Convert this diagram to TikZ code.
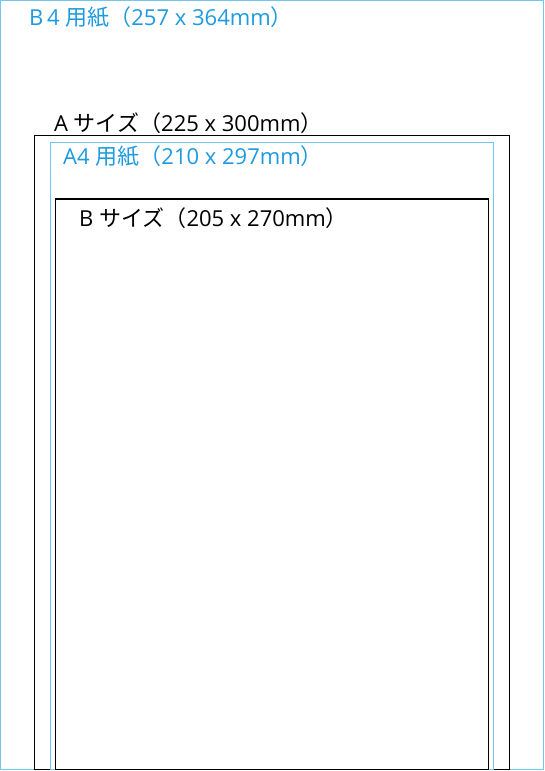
\documentclass[tikz,border=0pt]{standalone}
\usepackage{fontspec}
\newfontfamily\jp{Noto Sans CJK JP}
\newfontfamily\lat{Open Sans}
\definecolor{lineblue}{HTML}{72C7F0}
\definecolor{textblue}{HTML}{1E9BE0}
\tikzset{
  lbl/.style={anchor=base west, inner sep=0pt, font=\fontsize{22}{24}\selectfont},
  blackrect/.style={draw=black, line width=1.6pt},
  bluerect/.style={draw=lineblue, line width=1pt},
}
\newcommand{\myL}[1]{{\lat #1}}
\newcommand{\myJ}[1]{{\jp #1}}
\begin{document}
\begin{tikzpicture}[x=1pt,y=-1pt]
\useasboundingbox (0,0) rectangle (544,771);
\fill[white] (0,0) rectangle (544,771);
\draw[bluerect] (0.5,0.5) rectangle (543.5,769.5);
\draw[blackrect] (34.5,135.5) rectangle (509.5,769.5);
\draw[bluerect] (50,142) rectangle (493.7,769.5);
\draw[blackrect] (55.5,199) rectangle (488.5,769.5);
\node[lbl, text=textblue] (b4) at (29,25) {\myL{B\,4 }\myJ{用紙（}\myL{257 x 364mm}\myJ{）}};
\node[lbl] (a) at (54,131) {\myL{A\ }\myJ{サイズ（}\myL{225 x 300mm}\myJ{）}};
\node[lbl, text=textblue] (a4) at (63,164) {\myL{A4 }\myJ{用紙（}\myL{210 x 297mm}\myJ{）}};
\node[lbl] (b) at (79,226) {\myL{B\ }\myJ{サイズ（}\myL{205 x 270mm}\myJ{）}};
\end{tikzpicture}
\end{document}
